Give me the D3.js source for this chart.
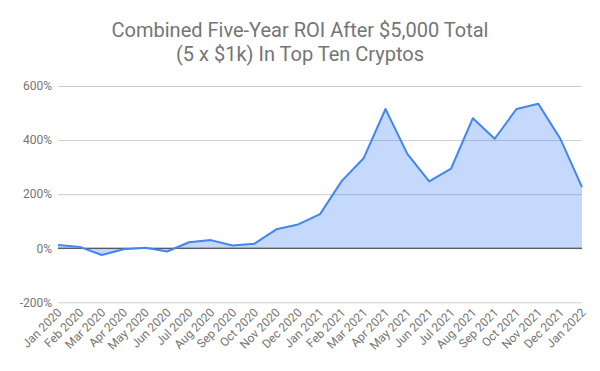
<!DOCTYPE html>
<html><head><meta charset="utf-8">
<script src="https://cdn.jsdelivr.net/npm/d3@7"></script>
<style>body{margin:0;background:#fff}svg{display:block;font-family:Roboto,Arial,sans-serif}</style>
</head><body>
<svg id="c" width="600" height="371"></svg>
<script>
const months = ["Jan 2020","Feb 2020","Mar 2020","Apr 2020","May 2020","Jun 2020","Jul 2020","Aug 2020","Sep 2020","Oct 2020","Nov 2020","Dec 2020","Jan 2021","Feb 2021","Mar 2021","Apr 2021","May 2021","Jun 2021","Jul 2021","Aug 2021","Sep 2021","Oct 2021","Nov 2021","Dec 2021","Jan 2022"];
const roi = [12,5,-25,-4,2,-12,22,30,10,17,70,88,126,249,333,515,349,247,294,481,405,515,534,406,226];
const yTicks = [-200,0,200,400,600];
const titleLines = ["Combined Five-Year ROI After $5,000 Total","(5 x $1k) In Top Ten Cryptos"];

const svg = d3.select("#c");
const L = 58, R = 582, T = 86, B = 302.3;
const x = d3.scalePoint().domain(months).range([L, R]);
const y = d3.scaleLinear().domain([-200, 600]).range([B, T]);

svg.selectAll("text.title").data(titleLines).enter().append("text")
  .attr("x", 300).attr("y", (d,i)=>37 + i*24).attr("text-anchor","middle")
  .attr("font-size", 20).attr("fill", "#757575").text(d=>d);

const ya = svg.append("g").attr("transform", `translate(${L},0)`)
  .call(d3.axisLeft(y).tickValues(yTicks).tickSize(-(R-L)).tickFormat(d=>d+"%"));
ya.select(".domain").remove();
ya.selectAll(".tick line").attr("stroke", "#cccccc");
ya.selectAll(".tick text").attr("x", -6).attr("fill", "#757575").attr("font-size", 12).attr("font-family","Roboto,Arial,sans-serif");

const area = d3.area().x((d,i)=>x(months[i])).y0(y(0)).y1(d=>y(d));
svg.append("path").datum(roi).attr("d", area).attr("fill", "#4285f4").attr("fill-opacity", 0.31);

svg.append("line").attr("x1", L).attr("x2", R).attr("y1", y(0)).attr("y2", y(0)).attr("stroke", "#333").attr("stroke-width", 1);

const line = d3.line().x((d,i)=>x(months[i])).y(d=>y(d));
svg.append("path").datum(roi).attr("d", line).attr("fill", "none").attr("stroke", "#4285f4").attr("stroke-width", 2).attr("stroke-linejoin","round");

const xa = svg.append("g").attr("transform", `translate(0,${B})`)
  .call(d3.axisBottom(x).tickSize(0));
xa.select(".domain").remove();
xa.selectAll(".tick text")
  .attr("fill", "#757575").attr("font-size", 12).attr("font-family","Roboto,Arial,sans-serif")
  .attr("text-anchor", "end").attr("dy", null).attr("y", 0)
  .attr("transform", "translate(4,11) rotate(-45)");
</script>
</body></html>
